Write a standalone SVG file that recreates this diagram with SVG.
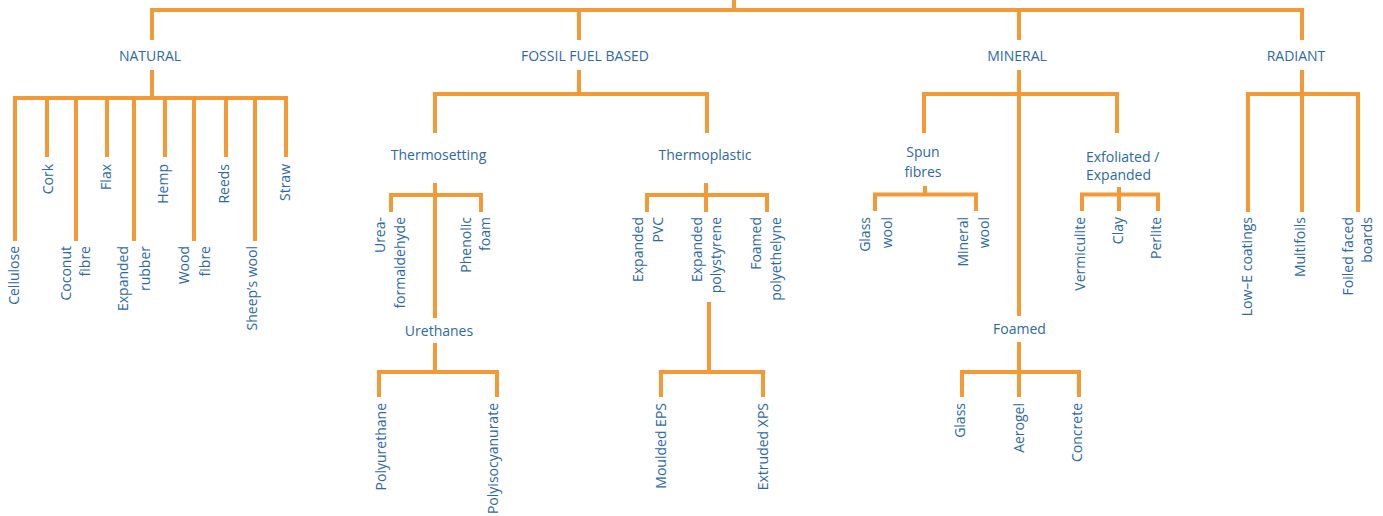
<svg xmlns="http://www.w3.org/2000/svg" width="1383" height="516" viewBox="0 0 1383 516">
<style>
.c{fill:none;stroke:#f39a36;stroke-width:4;stroke-linejoin:miter;stroke-linecap:butt}
text{font-family:"Open Sans","Liberation Sans",sans-serif;font-size:14px;fill:#2d68a6}
.h{text-anchor:middle}
.v{text-anchor:end}
</style>
<rect width="1383" height="516" fill="#ffffff"/>
<g id="connectors" class="c">
<path d="M734,0V10"/>
<path d="M152,40V10H1302V40"/>
<path d="M579,10V40"/>
<path d="M1019,10V40"/>
<path d="M152,70V98"/>
<path d="M15,241V98H286V157"/>
<path d="M47,98V157M76,98V241M107,98V157M134,98V241M165,98V157M194,98V241M226,98V157M255,98V241"/>
<path d="M579,70V94"/>
<path d="M435,133V94H707V133"/>
<path d="M435,183V318"/>
<path d="M391,212V195H481V212"/>
<path d="M435,343V372"/>
<path d="M379,397V372H497V397"/>
<path d="M706,183V212"/>
<path d="M647,212V195H767V212"/>
<path d="M709,302V372"/>
<path d="M661,397V372H763V397"/>
<path d="M1019,70V316"/>
<path d="M924,133V94H1117V133"/>
<path d="M925,186V194.5"/>
<path d="M875,211V194.5H976V211"/>
<path d="M1119,187V211"/>
<path d="M1082,211V194.5H1158V211"/>
<path d="M1019,342V397"/>
<path d="M962,397V372H1079V397"/>
<path d="M1302,70V212"/>
<path d="M1248,212V94H1358V212"/>
</g>
<g id="natural"><text class="h" x="150" y="60.5">NATURAL</text></g>
<g id="fossil"><text class="h" x="585" y="60.5">FOSSIL FUEL BASED</text></g>
<g id="mineral"><text class="h" x="1017" y="60.5">MINERAL</text></g>
<g id="radiant"><text class="h" x="1296" y="60.5">RADIANT</text></g>
<g id="cellulose"><text class="v" transform="translate(19,246) rotate(-90)">Cellulose</text></g>
<g id="cork"><text class="v" transform="translate(52.5,164) rotate(-90)">Cork</text></g>
<g id="coconut"><text class="v" transform="translate(70.5,246) rotate(-90)">Coconut</text><text class="v" transform="translate(89.7,246) rotate(-90)">fibre</text></g>
<g id="flax"><text class="v" transform="translate(111,164) rotate(-90)">Flax</text></g>
<g id="rubber"><text class="v" transform="translate(128,246) rotate(-90)">Expanded</text><text class="v" transform="translate(149.5,246) rotate(-90)">rubber</text></g>
<g id="hemp"><text class="v" transform="translate(168,164) rotate(-90)">Hemp</text></g>
<g id="wood"><text class="v" transform="translate(189,246) rotate(-90)">Wood</text><text class="v" transform="translate(210,246) rotate(-90)">fibre</text></g>
<g id="reeds"><text class="v" transform="translate(228.7,164) rotate(-90)">Reeds</text></g>
<g id="sheep"><text class="v" transform="translate(257,246) rotate(-90)">Sheep’s wool</text></g>
<g id="straw"><text class="v" transform="translate(289.5,164) rotate(-90)">Straw</text></g>
<g id="thermosetting"><text class="h" x="438.5" y="160">Thermosetting</text></g>
<g id="thermoplastic"><text class="h" x="705" y="160">Thermoplastic</text></g>
<g id="urea"><text class="v" transform="translate(385,217) rotate(-90)">Urea-</text><text class="v" transform="translate(405,217) rotate(-90)">formaldehyde</text></g>
<g id="phenolic"><text class="v" transform="translate(471,217) rotate(-90)">Phenolic</text><text class="v" transform="translate(490,217) rotate(-90)">foam</text></g>
<g id="urethanes"><text class="h" x="439" y="335.5">Urethanes</text></g>
<g id="polyurethane"><text class="v" transform="translate(386,403) rotate(-90)">Polyurethane</text></g>
<g id="polyisocyanurate"><text class="v" transform="translate(497.5,403) rotate(-90)">Polyisocyanurate</text></g>
<g id="pvc"><text class="v" transform="translate(642.5,217) rotate(-90)">Expanded</text><text class="v" transform="translate(663,217) rotate(-90)">PVC</text></g>
<g id="eps"><text class="v" transform="translate(701.5,217) rotate(-90)">Expanded</text><text class="v" transform="translate(721,217) rotate(-90)">polystyrene</text></g>
<g id="polyethelyne"><text class="v" transform="translate(760.5,217) rotate(-90)">Foamed</text><text class="v" transform="translate(781,217) rotate(-90)">polyethelyne</text></g>
<g id="moulded"><text class="v" transform="translate(666,403) rotate(-90)">Moulded EPS</text></g>
<g id="extruded"><text class="v" transform="translate(768,403) rotate(-90)">Extruded XPS</text></g>
<g id="spun"><text class="h" x="923" y="156.5">Spun</text><text class="h" x="923" y="177">fibres</text></g>
<g id="exfoliated"><text x="1086" y="161.5">Exfoliated /</text><text x="1086" y="180">Expanded</text></g>
<g id="glasswool"><text class="v" transform="translate(870,217) rotate(-90)">Glass</text><text class="v" transform="translate(892,217) rotate(-90)">wool</text></g>
<g id="mineralwool"><text class="v" transform="translate(968,217) rotate(-90)">Mineral</text><text class="v" transform="translate(988.5,217) rotate(-90)">wool</text></g>
<g id="vermiculite"><text class="v" transform="translate(1085,217) rotate(-90)">Vermiculite</text></g>
<g id="clay"><text class="v" transform="translate(1122.5,217) rotate(-90)">Clay</text></g>
<g id="perlite"><text class="v" transform="translate(1161,217) rotate(-90)">Perlite</text></g>
<g id="foamed"><text class="h" x="1019.5" y="333.5">Foamed</text></g>
<g id="glass"><text class="v" transform="translate(964.5,403) rotate(-90)">Glass</text></g>
<g id="aerogel"><text class="v" transform="translate(1024,403) rotate(-90)">Aerogel</text></g>
<g id="concrete"><text class="v" transform="translate(1082,403) rotate(-90)">Concrete</text></g>
<g id="lowe"><text class="v" transform="translate(1251.5,217) rotate(-90)">Low–E coatings</text></g>
<g id="multifoils"><text class="v" transform="translate(1305,217) rotate(-90)">Multifoils</text></g>
<g id="foiled"><text class="v" transform="translate(1352.5,217) rotate(-90)">Foiled faced</text><text class="v" transform="translate(1371.5,217) rotate(-90)">boards</text></g>
</svg>
